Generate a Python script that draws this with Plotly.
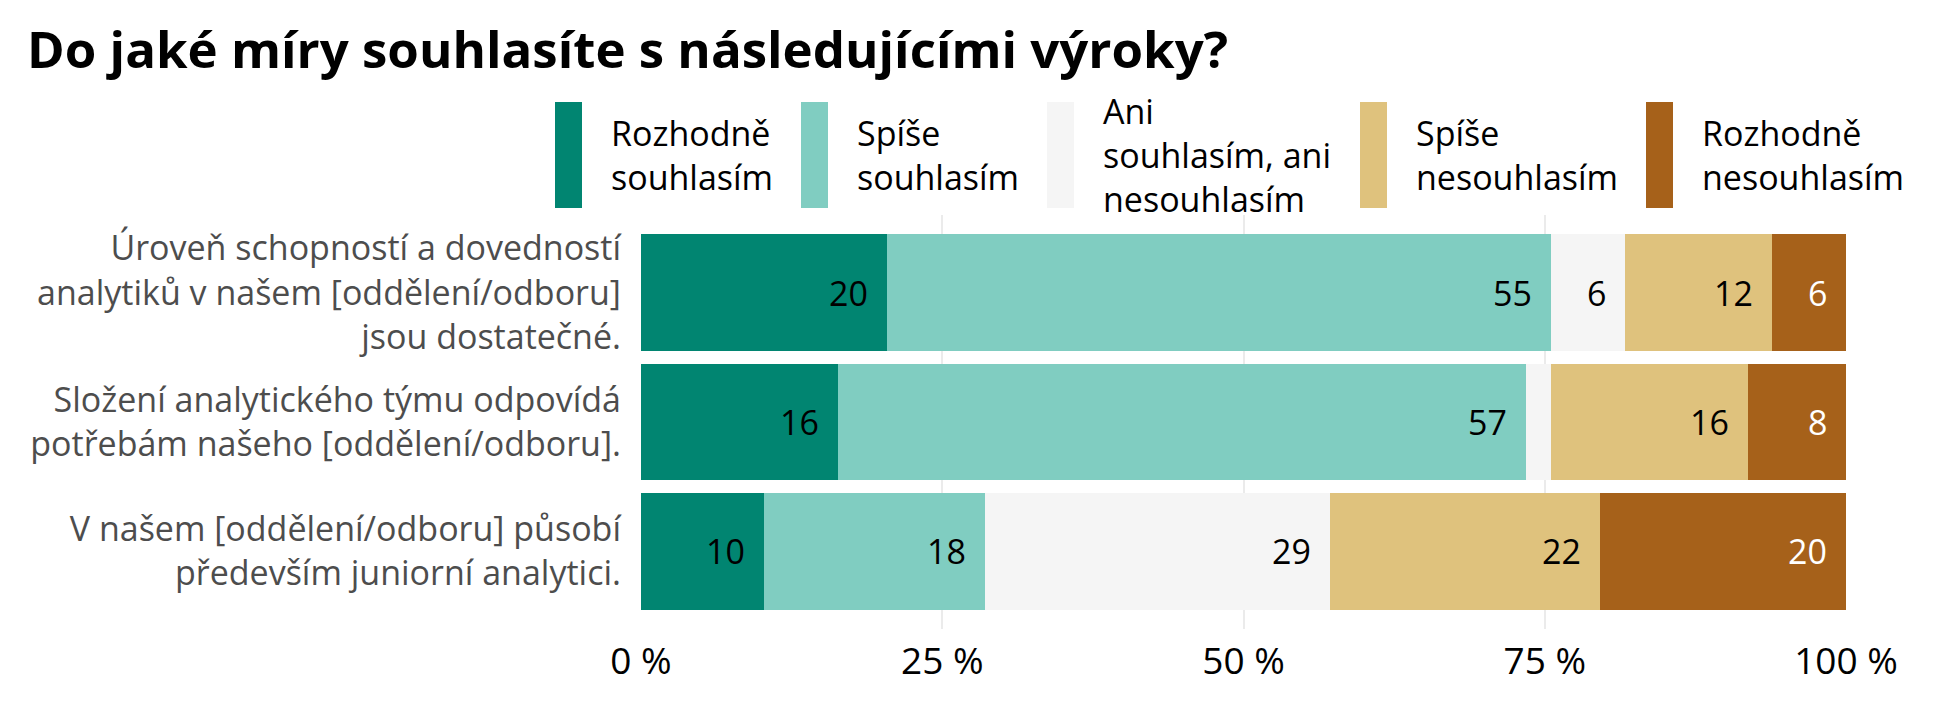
import plotly.graph_objects as go

# ---------------- data ----------------
statements = [
    "Úroveň schopností a dovedností<br>analytiků v našem [oddělení/odboru]<br>jsou dostatečné.",
    "Složení analytického týmu odpovídá<br>potřebám našeho [oddělení/odboru].",
    "V našem [oddělení/odboru] působí<br>především juniorní analytici.",
]
categories = [
    "Rozhodně souhlasím",
    "Spíše souhlasím",
    "Ani souhlasím, ani nesouhlasím",
    "Spíše nesouhlasím",
    "Rozhodně nesouhlasím",
]
legend_labels = [
    "Rozhodně<br>souhlasím",
    "Spíše<br>souhlasím",
    "Ani<br>souhlasím, ani<br>nesouhlasím",
    "Spíše<br>nesouhlasím",
    "Rozhodně<br>nesouhlasím",
]
rozhodne_souhlasim = [20.41, 16.33, 10.20]
spise_souhlasim = [55.10, 57.14, 18.37]
ani_ani = [6.12, 2.04, 28.57]
spise_nesouhlasim = [12.24, 16.33, 22.45]
rozhodne_nesouhlasim = [6.12, 8.16, 20.41]
x_tick_values = [0, 25, 50, 75, 100]
x_tick_labels = ["0 %", "25 %", "50 %", "75 %", "100 %"]
title_text = "Do jaké míry souhlasíte s následujícími výroky?"

# ---------------- styles ----------------
series = [rozhodne_souhlasim, spise_souhlasim, ani_ani, spise_nesouhlasim, rozhodne_nesouhlasim]
colors = ["#018571", "#80cdc1", "#f5f5f5", "#dfc27d", "#a6611a"]
label_colors = ["#000000", "#000000", "#000000", "#000000", "#ffffff"]
FONT = "Open Sans"

W, H = 1948, 708
PL, PR, PT, PB = 641, 1846, 215, 629  # plot area in pixels


def px_x(p):
    return (p - PL) / (PR - PL)


def px_y(p):
    return (PB - p) / (PB - PT)


fig = go.Figure()
for name, vals, col in zip(categories, series, colors):
    fig.add_trace(go.Bar(
        y=statements, x=vals, name=name, orientation="h",
        marker=dict(color=col, line=dict(width=0)),
        width=0.9, showlegend=False, hoverinfo="skip",
    ))

# value labels at inner right end of each segment
annotations = []
for i, stmt in enumerate(statements):
    cum = 0.0
    for vals, lc in zip(series, label_colors):
        v = vals[i]
        cum += v
        if v >= 3:
            annotations.append(dict(
                x=cum, y=stmt, xref="x", yref="y", text=f"{round(v):d}",
                showarrow=False, xanchor="right", yanchor="middle", xshift=-17,
                font=dict(family=FONT, size=34, color=lc),
            ))

# manual legend with tall keys
key_left = [555, 801, 1047, 1360, 1646]
shapes = []
for kl, col, lab in zip(key_left, colors, legend_labels):
    shapes.append(dict(
        type="rect", xref="paper", yref="paper",
        x0=px_x(kl), x1=px_x(kl + 27), y0=px_y(208), y1=px_y(102),
        fillcolor=col, line=dict(width=0), layer="above",
    ))
    annotations.append(dict(
        x=px_x(kl + 54), y=px_y(155), xref="paper", yref="paper",
        text=lab, showarrow=False, xanchor="left", yanchor="middle", align="left",
        font=dict(family=FONT, size=34, color="#000000"),
    ))

fig.update_layout(
    width=W, height=H,
    barmode="stack",
    plot_bgcolor="white", paper_bgcolor="white",
    margin=dict(l=PL, r=W - PR, t=PT, b=H - PB, pad=0),
    title=dict(
        text=f"<b>{title_text}</b>", x=27 / W, xref="container", xanchor="left",
        y=1 - 50 / H, yref="container", yanchor="middle",
        font=dict(family=FONT, size=51, color="#000000"),
    ),
    xaxis=dict(
        range=[0, 100], tickvals=x_tick_values, ticktext=x_tick_labels,
        showgrid=True, gridcolor="#ebebeb", gridwidth=1.5, zeroline=False,
        showline=False, ticks="", ticklabelstandoff=7,
        tickfont=dict(family=FONT, size=37, color="#000000"),
    ),
    yaxis=dict(
        categoryorder="array", categoryarray=statements,
        range=[2.6, -0.6], showgrid=False, zeroline=False, showline=False,
        ticks="", ticklabelstandoff=19,
        tickfont=dict(family=FONT, size=34, color="#4d4d4d"),
    ),
    annotations=annotations,
    shapes=shapes,
)

fig.write_html(
    "out.html",
    config={"displayModeBar": False},
    post_script="document.body.style.margin='0px';",
)
